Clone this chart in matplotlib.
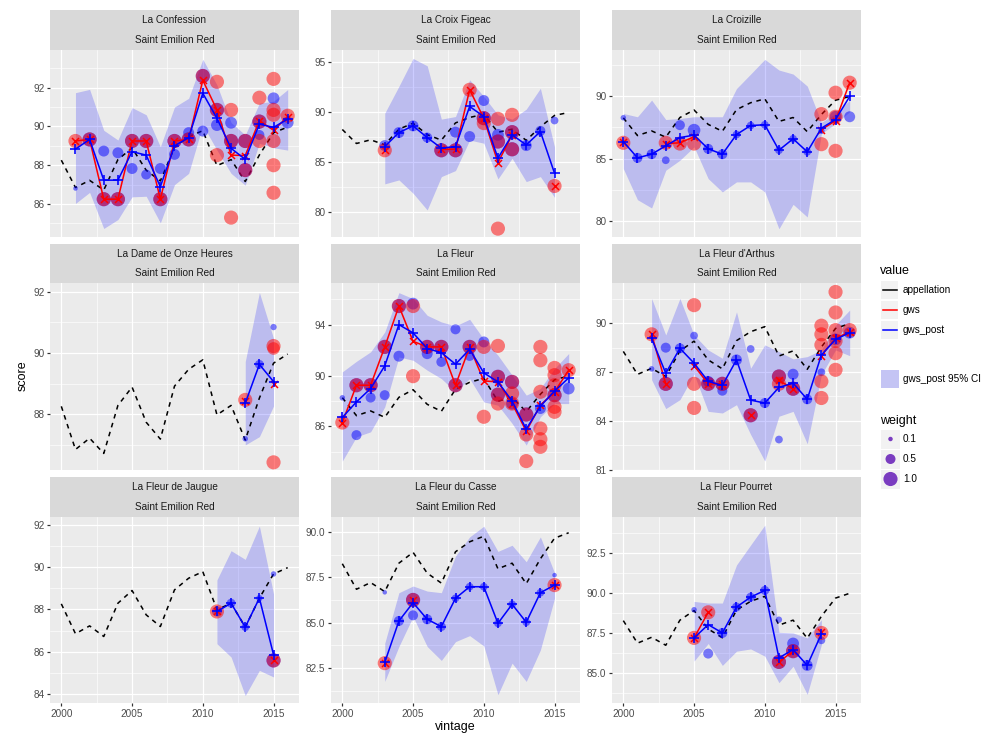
import numpy as np
import matplotlib
matplotlib.use("Agg")
import matplotlib.pyplot as plt
from matplotlib.patches import Rectangle
from matplotlib.lines import Line2D

nan = np.nan
plt.rcParams['font.family'] = ['Liberation Sans', 'DejaVu Sans']

# ---------------- data ----------------
APPELLATION = "Saint Emilion Red"
APP_YEARS = list(range(2000, 2017))
APP_SCORE = [88.26, 86.85, 87.22, 86.72, 88.29, 88.89, 87.74, 87.19, 88.92,
             89.47, 89.78, 87.98, 88.29, 87.16, 88.53, 89.67, 89.97]

# La Confession
CONF_YEARS = list(range(2001, 2017))
CONF_POST = [88.83, 89.33, 87.23, 87.23, 88.70, 88.52, 86.89, 89.0, 89.42, 91.71, 90.42, 88.87, 88.30, 90.12, 89.95, 90.38]
CONF_GWS = [89.25, 89.33, 86.25, 86.25, 89.25, 89.25, 86.25, 89.25, 89.33, 92.38, 90.85, 88.52, 88.5, 90.3, 89.8, 90.5]
CONF_LO = [86.03, 86.6, 84.74, 85.2, 86.37, 86.4, 85.03, 87.0, 87.58, 90.07, 88.78, 87.58, 86.97, 89.13, 88.9, 88.78]
CONF_HI = [91.74, 91.91, 89.8, 89.3, 90.97, 90.6, 88.95, 91.0, 91.45, 93.46, 92.14, 90.2, 89.56, 91.2, 91.3, 91.9]
CONF_RED = [(2001, 89.25, 1), (2002, 89.33, 1), (2003, 86.25, 1), (2004, 86.25, 1), (2005, 89.25, 1),
            (2006, 89.25, 1), (2007, 86.25, 1), (2008, 89.25, 1), (2009, 89.33, 1), (2010, 92.6, 1),
            (2011, 92.3, 1), (2011, 90.85, 1), (2011, 88.52, 1), (2012, 90.85, 1), (2012, 89.25, 1),
            (2012, 85.3, 1), (2013, 89.25, 1), (2013, 87.75, 1), (2014, 91.48, 1), (2014, 90.25, 1),
            (2014, 89.25, 1), (2015, 92.45, 1), (2015, 90.85, 1), (2015, 90.6, 1), (2015, 89.25, 1),
            (2015, 88.0, 1), (2015, 86.58, 1), (2016, 90.55, 1)]
CONF_BLUE = [(2001, 86.8, 0.1), (2002, 89.33, 1), (2003, 88.73, 0.6), (2003, 86.25, 1), (2004, 88.64, 0.6),
             (2004, 86.25, 1), (2005, 87.83, 0.6), (2005, 89.25, 1), (2006, 87.52, 0.5), (2006, 89.25, 1),
             (2007, 87.83, 0.6), (2007, 86.25, 1), (2008, 88.56, 0.6), (2008, 89.25, 1), (2009, 89.68, 0.6),
             (2009, 89.33, 1), (2010, 89.76, 0.6), (2010, 92.6, 1), (2011, 90.07, 0.7), (2011, 90.85, 1),
             (2012, 90.19, 0.7), (2012, 89.25, 1), (2013, 87.75, 1), (2013, 89.25, 1), (2014, 89.56, 0.5),
             (2014, 90.25, 1), (2015, 91.45, 0.7), (2016, 90.2, 0.7)]

# La Croix Figeac
CROIX_YEARS = list(range(2003, 2016))
CROIX_POST = [86.54, 87.95, 88.62, 87.45, 86.38, 86.54, 90.57, 89.56, 85.37, 87.72, 86.71, 88.05, 83.86]
CROIX_GWS = [86.17, nan, nan, nan, 86.27, 86.27, 92.25, 89.4, 84.93, 87.72, nan, nan, 82.58]
CROIX_LO = [82.79, 83.19, 81.85, 80.17, 83.52, 84.13, 87.2, 86.88, 83.29, 85.37, 83.02, 83.52, 81.44]
CROIX_HI = [89.9, 92.6, 95.4, 94.66, 89.3, 89.56, 93.25, 91.58, 89.73, 89.3, 90.3, 92.4, 86.5]
CROIX_RED = [(2003, 86.17, 1), (2007, 86.17, 1), (2008, 86.17, 1), (2009, 92.25, 1), (2010, 89.4, 1),
             (2010, 88.9, 1), (2011, 89.33, 1), (2011, 87.05, 1), (2011, 78.29, 1), (2012, 89.73, 1),
             (2012, 87.99, 1), (2012, 86.27, 1), (2015, 82.58, 1)]
CROIX_BLUE = [(2003, 86.64, 0.6), (2004, 87.95, 0.6), (2005, 88.62, 0.6), (2006, 87.45, 0.5), (2007, 86.17, 1),
              (2008, 87.99, 0.6), (2008, 86.17, 1), (2009, 87.55, 0.6), (2010, 91.17, 0.6), (2010, 89.4, 1),
              (2011, 87.72, 0.7), (2011, 87.05, 1), (2012, 87.99, 1), (2012, 86.27, 1), (2013, 86.64, 0.6),
              (2014, 88.12, 0.5), (2015, 89.16, 0.3)]

# La Croizille
CROIZ_YEARS = list(range(2000, 2017))
CROIZ_POST = [86.37, 85.07, 85.36, 86.03, 86.69, 86.88, 85.79, 85.36, 86.93, 87.65, 87.71, 85.68, 86.59, 85.55, 87.44, 88.13, 89.97]
CROIZ_GWS = [86.37, nan, nan, 86.21, 86.27, 86.75, nan, nan, nan, nan, nan, nan, nan, nan, 87.33, 88.03, 91.07]
CROIZ_LO = [84.21, 81.73, 81.07, 84.08, 84.88, 85.95, 83.41, 82.35, 83.15, 83.15, 82.35, 79.41, 81.36, 80.35, 87.0, 87.81, 88.75]
CROIZ_HI = [88.61, 88.35, 89.68, 88.13, 88.21, 88.35, 88.35, 88.35, 90.6, 91.76, 92.93, 92.08, 91.76, 90.8, 87.9, 88.61, 89.68]
CROIZ_RED = [(2000, 86.27, 1), (2003, 86.27, 1), (2004, 86.21, 1), (2005, 86.21, 1), (2014, 88.56, 1),
             (2014, 86.16, 1), (2015, 90.27, 1), (2015, 88.35, 1), (2015, 85.63, 1), (2016, 91.07, 1)]
CROIZ_BLUE = [(2000, 88.27, 0.15), (2001, 85.07, 0.5), (2002, 85.36, 0.5), (2003, 84.88, 0.3), (2004, 87.68, 0.5),
              (2005, 87.28, 0.8), (2006, 85.79, 0.5), (2007, 85.36, 0.5), (2008, 86.93, 0.3), (2009, 87.65, 0.3),
              (2010, 87.71, 0.3), (2011, 85.68, 0.3), (2012, 86.59, 0.3), (2013, 85.55, 0.3), (2014, 87.23, 0.2),
              (2015, 88.35, 0.7), (2016, 88.35, 0.6)]

# La Dame de Onze Heures
DAME_YEARS = [2013, 2014, 2015]
DAME_POST = [88.36, 89.63, 89.07]
DAME_GWS = [88.45, nan, 88.99]
DAME_LO = [87.0, 87.27, 88.27]
DAME_HI = [89.72, 91.98, 90.48]
DAME_RED = [(2013, 88.47, 1), (2015, 90.23, 1), (2015, 90.15, 0.8), (2015, 86.43, 1)]
DAME_BLUE = [(2013, 87.2, 0.15), (2014, 89.63, 0.4), (2015, 90.85, 0.2)]

# La Fleur
FLEUR_YEARS = list(range(2000, 2017))
FLEUR_POST = [86.71, 87.93, 88.98, 90.76, 94.0, 93.35, 92.12, 91.8, 90.89, 92.07, 90.21, 89.5, 88.0, 85.79, 87.6, 88.77, 89.82]
FLEUR_GWS = [86.31, 89.24, 89.24, 92.25, 95.46, 92.69, 92.25, 92.25, 89.24, 92.25, 89.58, 89.5, 87.8, 85.63, 87.67, 88.72, 90.42]
FLEUR_LO = [83.28, 85.19, 85.58, 87.54, 91.46, 91.2, 90.42, 89.76, 88.72, 89.76, 87.93, 87.67, 86.24, 84.54, 86.76, 87.8, 87.8]
FLEUR_HI = [90.29, 91.12, 91.86, 93.42, 96.51, 96.04, 94.73, 94.21, 93.9, 94.42, 92.85, 91.59, 90.03, 88.46, 88.98, 90.55, 91.73]
FLEUR_RED = [(2000, 86.31, 1), (2001, 89.24, 1), (2002, 89.24, 1), (2003, 92.25, 1), (2004, 95.46, 1),
             (2005, 95.46, 1), (2005, 89.95, 1), (2006, 92.25, 1), (2007, 92.25, 1), (2008, 89.24, 1),
             (2009, 92.25, 1), (2010, 92.25, 1), (2010, 86.76, 1), (2011, 92.33, 1), (2011, 89.9, 1),
             (2011, 88.5, 1), (2011, 87.8, 1), (2012, 89.5, 1), (2012, 88.59, 1), (2012, 87.8, 1),
             (2013, 86.94, 1), (2013, 85.37, 1), (2013, 83.28, 1), (2014, 92.25, 1), (2014, 91.2, 1),
             (2014, 88.72, 1), (2014, 85.84, 1), (2014, 85.0, 1), (2014, 84.4, 1), (2015, 90.6, 1),
             (2015, 90.03, 1), (2015, 89.24, 1), (2015, 88.46, 1), (2015, 87.54, 1), (2015, 87.15, 1),
             (2016, 90.42, 1)]
FLEUR_BLUE = [(2000, 88.25, 0.15), (2001, 89.24, 1), (2001, 85.32, 0.5), (2002, 89.24, 1), (2002, 88.27, 0.5),
              (2003, 92.25, 1), (2003, 88.46, 0.5), (2004, 95.46, 1), (2004, 91.52, 0.6), (2005, 95.65, 0.7),
              (2006, 92.25, 1), (2006, 91.72, 0.6), (2007, 92.25, 1), (2007, 91.07, 0.5), (2008, 89.24, 1),
              (2008, 93.63, 0.5), (2009, 92.25, 1), (2009, 91.54, 0.5), (2010, 92.64, 0.6), (2011, 89.9, 1),
              (2011, 88.5, 1), (2012, 89.5, 1), (2012, 87.8, 0.7), (2013, 86.94, 1), (2014, 87.41, 0.6),
              (2015, 88.46, 1), (2016, 88.98, 0.7)]

# La Fleur d'Arthus
ARTH_YEARS = list(range(2002, 2017))
ARTH_POST = [89.06, 86.92, 88.45, 87.54, 86.42, 86.17, 87.74, 85.27, 85.09, 86.05, 86.31, 85.32, 88.04, 89.0, 89.41]
ARTH_GWS = [89.31, 86.27, nan, 87.39, 86.27, 86.27, nan, 84.34, nan, 86.48, 85.97, nan, 88.0, 89.06, 89.47]
ARTH_LO = [86.52, 84.75, 85.3, 86.86, 84.58, 84.48, 84.99, 83.16, 81.53, 84.28, 84.58, 82.59, 86.82, 88.35, 88.0]
ARTH_HI = [91.51, 89.27, 91.51, 89.27, 88.35, 87.84, 90.69, 87.23, 88.66, 88.25, 87.8, 87.94, 88.35, 89.88, 90.8]
ARTH_RED = [(2002, 89.31, 1), (2003, 86.27, 1), (2005, 91.1, 1), (2005, 86.27, 1), (2005, 84.79, 1),
            (2006, 86.27, 1), (2007, 86.27, 1), (2009, 84.34, 1), (2011, 86.72, 1), (2011, 86.27, 1),
            (2012, 85.97, 1), (2014, 89.84, 1), (2014, 89.31, 1), (2014, 88.66, 1), (2014, 86.42, 1),
            (2014, 85.4, 1), (2015, 91.91, 1), (2015, 90.65, 1), (2015, 89.57, 1), (2015, 88.9, 1),
            (2015, 88.15, 1), (2015, 87.13, 1), (2016, 89.57, 1)]
ARTH_BLUE = [(2002, 87.19, 0.15), (2003, 88.49, 0.5), (2003, 86.27, 1), (2004, 88.45, 0.5), (2005, 89.23, 0.3),
             (2006, 86.42, 0.6), (2006, 86.27, 1), (2007, 85.85, 0.5), (2007, 86.27, 1), (2008, 87.74, 0.6),
             (2009, 88.41, 0.3), (2009, 84.34, 1), (2010, 85.09, 0.5), (2011, 86.72, 1), (2011, 82.85, 0.3),
             (2012, 86.86, 0.6), (2012, 85.97, 1), (2013, 85.32, 0.5), (2014, 86.98, 0.3), (2015, 89.0, 0.7),
             (2016, 89.41, 0.7)]

# La Fleur de Jaugue
JAUG_YEARS = [2011, 2012, 2013, 2014, 2015]
JAUG_POST = [87.9, 88.29, 87.16, 88.53, 85.86]
JAUG_GWS = [87.9, nan, nan, nan, 85.59]
JAUG_LO = [86.38, 85.75, 83.93, 85.12, 84.81]
JAUG_HI = [89.39, 90.77, 90.36, 91.93, 88.73]
JAUG_RED = [(2011, 87.9, 1), (2015, 85.59, 1)]
JAUG_BLUE = [(2011, 87.9, 0.5), (2012, 88.29, 0.4), (2013, 87.16, 0.3), (2014, 88.53, 0.2),
             (2015, 85.59, 1), (2015, 89.67, 0.15)]

# La Fleur du Casse
CASSE_YEARS = list(range(2003, 2016))
CASSE_POST = [82.81, 85.1, 86.11, 85.19, 84.79, 86.35, 86.99, 86.99, 84.97, 86.02, 85.03, 86.66, 87.08]
CASSE_GWS = [82.77, nan, 86.26, nan, nan, nan, nan, nan, nan, nan, nan, nan, 87.08]
CASSE_LO = [81.76, 83.69, 85.34, 83.69, 82.92, 83.96, 84.29, 83.72, 81.03, 82.77, 81.76, 83.5, 86.35]
CASSE_HI = [83.87, 86.66, 87.03, 86.75, 86.66, 88.68, 89.74, 90.33, 88.94, 89.28, 88.37, 89.74, 87.76]
CASSE_RED = [(2003, 82.77, 1), (2005, 86.26, 1), (2015, 87.08, 1)]
CASSE_BLUE = [(2003, 86.68, 0.1), (2004, 85.1, 0.5), (2005, 86.26, 1), (2005, 85.41, 0.5), (2006, 85.19, 0.5),
              (2007, 84.79, 0.4), (2008, 86.35, 0.3), (2009, 86.99, 0.3), (2010, 86.99, 0.3), (2011, 84.97, 0.3),
              (2012, 86.02, 0.3), (2013, 85.03, 0.3), (2014, 86.66, 0.3), (2015, 87.63, 0.1)]

# La Fleur Pourret
POUR_YEARS = list(range(2005, 2015))
POUR_POST = [87.18, 88.01, 87.49, 89.11, 89.73, 90.15, 85.93, 86.45, 85.46, 87.43]
POUR_GWS = [87.18, 88.78, nan, nan, nan, nan, 85.68, 86.35, nan, 87.55]
POUR_LO = [85.73, 86.83, 85.46, 86.35, 86.49, 86.04, 84.38, 85.41, 83.65, 86.76]
POUR_HI = [89.46, 89.36, 89.36, 91.74, 92.99, 94.23, 87.53, 87.49, 87.18, 88.32]
POUR_RED = [(2005, 87.18, 1), (2006, 88.78, 1), (2011, 85.68, 1), (2012, 86.35, 1), (2014, 87.49, 1)]
POUR_BLUE = [(2005, 88.94, 0.15), (2006, 86.2, 0.5), (2007, 87.49, 0.5), (2008, 89.11, 0.4), (2009, 89.73, 0.4),
             (2010, 90.15, 0.4), (2011, 85.68, 1), (2011, 88.32, 0.2), (2012, 86.83, 0.7), (2012, 86.35, 1),
             (2013, 85.46, 0.6), (2014, 87.03, 0.3)]

WINES = ["La Confession", "La Croix Figeac", "La Croizille",
         "La Dame de Onze Heures", "La Fleur", "La Fleur d'Arthus",
         "La Fleur de Jaugue", "La Fleur du Casse", "La Fleur Pourret"]

PANEL_DATA = [
    (CONF_YEARS, CONF_POST, CONF_GWS, CONF_LO, CONF_HI, CONF_RED, CONF_BLUE),
    (CROIX_YEARS, CROIX_POST, CROIX_GWS, CROIX_LO, CROIX_HI, CROIX_RED, CROIX_BLUE),
    (CROIZ_YEARS, CROIZ_POST, CROIZ_GWS, CROIZ_LO, CROIZ_HI, CROIZ_RED, CROIZ_BLUE),
    (DAME_YEARS, DAME_POST, DAME_GWS, DAME_LO, DAME_HI, DAME_RED, DAME_BLUE),
    (FLEUR_YEARS, FLEUR_POST, FLEUR_GWS, FLEUR_LO, FLEUR_HI, FLEUR_RED, FLEUR_BLUE),
    (ARTH_YEARS, ARTH_POST, ARTH_GWS, ARTH_LO, ARTH_HI, ARTH_RED, ARTH_BLUE),
    (JAUG_YEARS, JAUG_POST, JAUG_GWS, JAUG_LO, JAUG_HI, JAUG_RED, JAUG_BLUE),
    (CASSE_YEARS, CASSE_POST, CASSE_GWS, CASSE_LO, CASSE_HI, CASSE_RED, CASSE_BLUE),
    (POUR_YEARS, POUR_POST, POUR_GWS, POUR_LO, POUR_HI, POUR_RED, POUR_BLUE),
]

# axis scales (free y per facet)
Y_LIMITS = [(84.3, 93.94), (77.45, 96.25), (78.75, 93.68),
            (86.18, 92.29), (82.58, 97.27), (80.98, 92.46),
            (83.58, 92.36), (80.57, 90.84), (83.11, 94.74)]
Y_TICKS = [[86, 88, 90, 92], [80, 85, 90, 95], [80, 85, 90],
           [88, 90, 92], [86, 90, 94], [81, 84, 87, 90],
           [84, 86, 88, 90, 92], [82.5, 85.0, 87.5, 90.0], [85.0, 87.5, 90.0, 92.5]]
Y_DECIMALS = [0, 0, 0, 0, 0, 0, 0, 1, 1]
X_TICKS = [2000, 2005, 2010, 2015]
X_LIMITS = (1999.2, 2016.8)

# ---------------- figure ----------------
W, H = 983, 734
DPI = 72
fig = plt.figure(figsize=(W / DPI, H / DPI), dpi=DPI)
fig.patch.set_facecolor('white')


def px_axes(x0, y0, x1, y1):
    return fig.add_axes([x0 / W, 1 - y1 / H, (x1 - x0) / W, (y1 - y0) / H])


COLS = [(50, 299), (331, 580), (612, 861)]
ROWS = [(10, 50, 237), (244, 283, 470), (477, 517, 703)]

GREY_BG = '#EBEBEB'
LW = 1.55
FS = 10
FS_TITLE = 12.5

for i, wine in enumerate(WINES):
    r, c = divmod(i, 3)
    x0, x1 = COLS[c]
    st, pt, pb = ROWS[r]
    # strip
    sax = px_axes(x0, st, x1, pt)
    sax.set_facecolor('#D9D9D9')
    sax.set_xticks([]); sax.set_yticks([])
    for sp in sax.spines.values():
        sp.set_visible(False)
    sax.text(0.5, 0.74, wine, ha='center', va='center', fontsize=FS, color='#1A1A1A', transform=sax.transAxes)
    sax.text(0.5, 0.26, APPELLATION, ha='center', va='center', fontsize=FS, color='#1A1A1A', transform=sax.transAxes)

    ax = px_axes(x0, pt, x1, pb)
    ax.set_facecolor(GREY_BG)
    for sp in ax.spines.values():
        sp.set_visible(False)
    yrs, post, gws, lo, hi, red, blue = PANEL_DATA[i]
    ylo, yhi = Y_LIMITS[i]
    ax.set_xlim(*X_LIMITS)
    ax.set_ylim(ylo, yhi)

    yt = Y_TICKS[i]
    step = yt[1] - yt[0]
    ax.set_yticks(yt)
    ax.set_yticklabels([f"{v:.{Y_DECIMALS[i]}f}" for v in yt])
    yminor = [v for v in np.arange(yt[0] - step / 2, yhi, step) if ylo < v < yhi]
    ax.set_yticks(yminor, minor=True)
    ax.set_xticks(X_TICKS)
    ax.set_xticks([2002.5, 2007.5, 2012.5], minor=True)
    ax.grid(which='major', color='white', lw=1.2)
    ax.grid(which='minor', color='white', lw=0.6)
    ax.set_axisbelow(True)
    ax.tick_params(which='major', length=3.1, width=1.2, color='#333333',
                   labelcolor='#4D4D4D', labelsize=FS, pad=2.5)
    ax.tick_params(which='minor', length=0)
    if r < 2:
        ax.tick_params(axis='x', which='both', bottom=False, labelbottom=False)

    ax.fill_between(yrs, lo, hi, color='blue', alpha=0.2, lw=0, zorder=2)
    ax.plot(APP_YEARS, APP_SCORE, color='black', lw=LW, ls=(0, (3, 3)), zorder=3)

    bx = [p[0] for p in blue]; by = [p[1] for p in blue]; bw = [p[2] for p in blue]
    rx = [p[0] for p in red]; ry = [p[1] for p in red]; rw = [p[2] for p in red]
    ax.scatter(bx, by, s=[200 * w for w in bw], color='blue', alpha=0.5, lw=0, zorder=4)
    ax.scatter(rx, ry, s=[200 * w for w in rw], color='red', alpha=0.5, lw=0, zorder=5)

    ax.plot(yrs, gws, color='red', lw=LW, marker='x', ms=7, mew=1.5, zorder=6)
    ax.plot(yrs, post, color='blue', lw=LW, marker='+', ms=10, mew=1.6, zorder=7)

fig.text(23 / W, 1 - 376 / H, 'score', rotation=90, ha='center', va='center', fontsize=FS_TITLE, color='black')
fig.text(455.5 / W, 1 - 727 / H, 'vintage', ha='center', va='center', fontsize=FS_TITLE, color='black')

# ---------------- legend ----------------
lax = fig.add_axes([0, 0, 1, 1])
lax.set_xlim(0, W); lax.set_ylim(H, 0)
lax.axis('off')
lax.patch.set_alpha(0)

lax.text(880, 271, 'value', fontsize=FS_TITLE, va='center', ha='left')
for yc, col, lab in [(290, 'black', 'appellation'), (310, 'red', 'gws'), (330, 'blue', 'gws_post')]:
    lax.add_patch(Rectangle((881, yc - 8.6), 17.3, 17.3, facecolor='#F2F2F2', edgecolor='none'))
    lax.add_line(Line2D([882.5, 896.5], [yc, yc], color=col, lw=LW))
    lax.text(903, yc, lab, fontsize=FS, va='center', ha='left')

lax.add_patch(Rectangle((881, 370), 18, 18, facecolor='#C4C4F4', edgecolor='none'))
lax.text(903, 379, 'gws_post 95% CI', fontsize=FS, va='center', ha='left')

lax.text(880, 421, 'weight', fontsize=FS_TITLE, va='center', ha='left')
for yc, w, lab in [(439, 0.1, '0.1'), (459, 0.5, '0.5'), (479, 1.0, '1.0')]:
    lax.add_patch(Rectangle((881, yc - 9.5), 19, 19, facecolor='#F2F2F2', edgecolor='none'))
    lax.text(903, yc, lab, fontsize=FS, va='center', ha='left')
lax.scatter([890.5, 890.5, 890.5], [439, 459, 479], s=[20, 100, 200], color='#7A3CC0', lw=0)

fig.savefig('out.png', dpi=DPI, facecolor='white')
